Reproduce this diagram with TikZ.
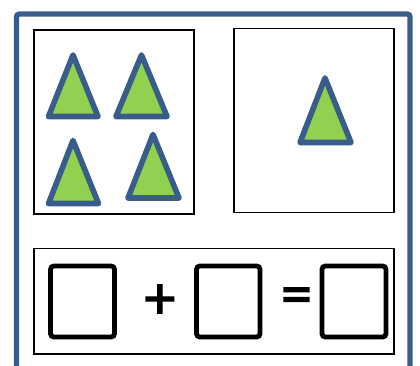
\documentclass[tikz,border=0pt]{standalone}
\usepackage{fontspec}
\setmainfont{Carlito}
\newfontfamily\signfont[FakeBold=2]{Carlito}
\usepackage{tikz}

\definecolor{frameblue}{RGB}{56,93,138}
\definecolor{trigreen}{RGB}{146,208,80}

\tikzset{
  tri/.style={draw=frameblue, fill=trigreen, line width=4.2pt, line join=round},
  panel/.style={draw=black, line width=0.8pt},
  blank/.style={draw=black, line width=3.6pt, rounded corners=2.5pt},
  sign/.style={inner sep=0pt, font=\fontsize{46}{50}\signfont}
}

\begin{document}
\begin{tikzpicture}[x=0.75pt,y=0.75pt,yscale=-1,xscale=1]
        \useasboundingbox (0,0) rectangle (420,365);

        %Shape: Outer frame, open at the bottom
        \draw [draw=frameblue, line width=3.9pt, rounded corners=2pt] (16.5,366) -- (16.5,14) -- (410,14) -- (410,366);

        %Shape: Rectangle (left panel)
        \draw [panel] (34,30) rectangle (194,214);
        %Shape: Rectangle (right panel)
        \draw [panel] (234,28.5) rectangle (394,212.5);
        %Shape: Rectangle (sum panel)
        \draw [panel] (34,248.5) rectangle (394,354);

        %Shape: Triangles in the left panel
        \draw [tri] (73,55) -- (98,116.5) -- (48.5,116.5) -- cycle;
        \draw [tri] (141.5,55) -- (167,116.5) -- (116,116.5) -- cycle;
        \draw [tri] (73,140.5) -- (98.5,203.5) -- (48.5,203.5) -- cycle;
        \draw [tri] (153,134.5) -- (179,198) -- (128,198) -- cycle;

        %Shape: Triangle in the right panel
        \draw [tri] (325,78) -- (351,142.5) -- (300,142.5) -- cycle;

        %Shape: Blank boxes
        \draw [blank] (50.5,266) rectangle (114.5,337);
        \draw [blank] (196.5,266) rectangle (260,337);
        \draw [blank] (322,266) rectangle (386,337);

        % Text Node
        \node [sign] (plus) at (160,301.5) {+};
        % Text Node
        \node [sign] (equals) at (296.5,301) {=};

    \end{tikzpicture}
\end{document}
